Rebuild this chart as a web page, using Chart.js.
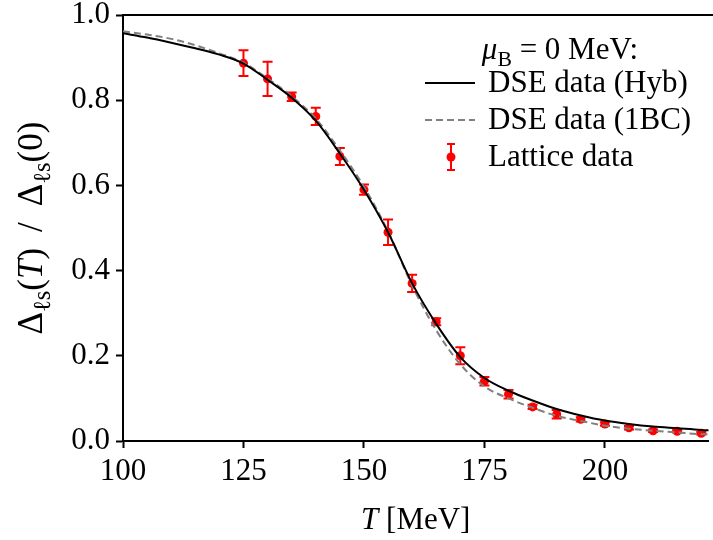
<!DOCTYPE html>
<html>
<head>
<meta charset="utf-8">
<script src="https://cdn.jsdelivr.net/npm/chart.js@4.4.1/dist/chart.umd.min.js"></script>
<style>
  body { margin: 0; background: #fff; }
  #wrap { width: 713px; height: 540px; }
</style>
</head>
<body>
<div id="wrap"><canvas id="myChart" width="713" height="540"></canvas></div>
<script>
// temperatures for the DSE curves (MeV)
var curveT = [100, 105, 110, 115, 120, 125, 130, 135, 140, 145, 150, 155, 160,
              165, 170, 175, 180, 185, 190, 195, 200, 205, 210, 215, 220, 222];
var hybValues = [0.957, 0.947, 0.935, 0.922, 0.907, 0.886, 0.848, 0.806, 0.752, 0.675,
                 0.590, 0.490, 0.370, 0.275, 0.197, 0.148, 0.118, 0.095, 0.075, 0.060,
                 0.048, 0.040, 0.034, 0.030, 0.026, 0.025];
var oneBCValues = [0.962, 0.954, 0.944, 0.929, 0.910, 0.888, 0.851, 0.809, 0.757, 0.682,
                   0.597, 0.492, 0.365, 0.260, 0.180, 0.128, 0.100, 0.078, 0.059, 0.047,
                   0.036, 0.029, 0.024, 0.020, 0.016, 0.0155];

// lattice points
var latticeT = [125, 130, 135, 140, 145, 150, 155, 160, 165, 170,
                175, 180, 185, 190, 195, 200, 205, 210, 215, 220];
var latticeValues = [0.887, 0.850, 0.808, 0.762, 0.668, 0.590, 0.490, 0.370, 0.280, 0.200,
                     0.140, 0.110, 0.080, 0.063, 0.051, 0.040, 0.031, 0.024, 0.023, 0.018];
var latticeErr = [0.030, 0.040, 0.010, 0.020, 0.020, 0.012, 0.030, 0.020, 0.008, 0.020,
                  0.010, 0.010, 0.005, 0.010, 0.005, 0.004, 0.004, 0.003, 0.003, 0.003];

var xTicks = [100, 125, 150, 175, 200];
var yTicks = [0, 0.2, 0.4, 0.6, 0.8, 1.0];

var FONT = "'Liberation Serif', 'DejaVu Serif', serif";
var FS = 31;

function pts(xs, ys) {
  var out = [];
  for (var i = 0; i < xs.length; i++) out.push({x: xs[i], y: ys[i]});
  return out;
}

// draw a run of text pieces (italic / subscript / extra gap) centred at x,y
function drawRich(ctx, segs, x, y, size) {
  var total = 0;
  var i, s, f;
  for (i = 0; i < segs.length; i++) {
    s = segs[i];
    f = (s.it ? 'italic ' : '') + (s.sub ? size * 0.7 : size) + 'px ' + FONT;
    ctx.font = f;
    s.w = ctx.measureText(s.t).width + (s.gap || 0) * 2;
    s.f = f;
    total += s.w;
  }
  var cx = x - total / 2;
  ctx.textBaseline = 'alphabetic';
  ctx.textAlign = 'left';
  for (i = 0; i < segs.length; i++) {
    s = segs[i];
    ctx.font = s.f;
    ctx.fillText(s.t, cx + (s.gap || 0), y + (s.sub ? size * 0.22 : 0));
    cx += s.w;
  }
}

var extrasPlugin = {
  id: 'extras',
  beforeDatasetsDraw: function(chart) {
    var ctx = chart.ctx, xs = chart.scales.x, ys = chart.scales.y, a = chart.chartArea;
    ctx.save();
    ctx.beginPath();
    ctx.rect(a.left, a.top - 5, a.right - a.left + 5, a.bottom - a.top + 10);
    ctx.clip();
    ctx.strokeStyle = '#ff0000';
    ctx.lineWidth = 2;
    for (var i = 0; i < latticeT.length; i++) {
      var px = xs.getPixelForValue(latticeT[i]);
      var y1 = ys.getPixelForValue(latticeValues[i] + latticeErr[i]);
      var y2 = ys.getPixelForValue(latticeValues[i] - latticeErr[i]);
      ctx.beginPath();
      ctx.moveTo(px, y1); ctx.lineTo(px, y2);
      ctx.moveTo(px - 5, y1); ctx.lineTo(px + 5, y1);
      ctx.moveTo(px - 5, y2); ctx.lineTo(px + 5, y2);
      ctx.stroke();
    }
    ctx.restore();
  },
  afterDraw: function(chart) {
    var ctx = chart.ctx, a = chart.chartArea;
    ctx.save();
    // top spine
    ctx.strokeStyle = '#000';
    ctx.lineWidth = 2;
    ctx.beginPath();
    ctx.moveTo(a.left - 1, a.top);
    ctx.lineTo(chart.width, a.top);
    ctx.stroke();

    ctx.fillStyle = '#000';
    // x title
    drawRich(ctx, [{t: 'T', it: true}, {t: ' [MeV]'}], (a.left + a.right) / 2, 529, FS);
    // y title
    ctx.save();
    ctx.translate(42, (a.top + a.bottom) / 2);
    ctx.rotate(-Math.PI / 2);
    drawRich(ctx, [{t: '\u0394'}, {t: '\u2113s', sub: true}, {t: '('}, {t: 'T', it: true},
                   {t: ')'}, {t: '/', gap: 16}, {t: '\u0394'}, {t: '\u2113s', sub: true},
                   {t: '(0)'}], 0, 0, 35);
    ctx.restore();

    // legend
    var ds = chart.data.datasets;
    drawRich(ctx, [{t: '\u03bc', it: true}, {t: 'B', sub: true}, {t: ' = 0 MeV:'}], 560, 59, 31);
    ctx.font = '31px ' + FONT;
    ctx.textAlign = 'left';
    ctx.textBaseline = 'middle';
    var rows = [83, 120, 157];
    for (var i = 0; i < 3; i++) {
      ctx.fillStyle = '#000';
      ctx.fillText(ds[i].label, 488, rows[i] + 1);
    }
    ctx.lineWidth = 2;
    ctx.strokeStyle = ds[0].borderColor;
    ctx.beginPath(); ctx.moveTo(425, rows[0]); ctx.lineTo(475, rows[0]); ctx.stroke();
    ctx.strokeStyle = ds[1].borderColor;
    ctx.setLineDash(ds[1].borderDash);
    ctx.beginPath(); ctx.moveTo(425, rows[1]); ctx.lineTo(475, rows[1]); ctx.stroke();
    ctx.setLineDash([]);
    ctx.strokeStyle = '#ff0000';
    ctx.fillStyle = '#ff0000';
    ctx.beginPath();
    ctx.moveTo(451, rows[2] - 13); ctx.lineTo(451, rows[2] + 13);
    ctx.moveTo(447, rows[2] - 13); ctx.lineTo(455, rows[2] - 13);
    ctx.moveTo(447, rows[2] + 13); ctx.lineTo(455, rows[2] + 13);
    ctx.stroke();
    ctx.beginPath(); ctx.arc(451, rows[2], 4.5, 0, Math.PI * 2); ctx.fill();
    ctx.restore();
  }
};

var ctx = document.getElementById('myChart').getContext('2d');
var chart = new Chart(ctx, {
  type: 'line',
  data: {
    datasets: [{
      label: 'DSE data (Hyb)',
      data: pts(curveT, hybValues),
      borderColor: '#000000',
      borderWidth: 2,
      pointRadius: 0,
      fill: false,
      cubicInterpolationMode: 'monotone'
    }, {
      label: 'DSE data (1BC)',
      data: pts(curveT, oneBCValues),
      borderColor: '#808080',
      borderWidth: 2,
      borderDash: [7, 4],
      pointRadius: 0,
      fill: false,
      cubicInterpolationMode: 'monotone'
    }, {
      label: 'Lattice data',
      data: pts(latticeT, latticeValues),
      showLine: false,
      pointRadius: 4.5,
      pointBackgroundColor: '#ff0000',
      pointBorderWidth: 0,
      borderColor: '#ff0000'
    }]
  },
  options: {
    responsive: false,
    animation: false,
    layout: { padding: { top: 15, right: 0, left: 0, bottom: 0 } },
    plugins: { legend: { display: false }, tooltip: { enabled: false } },
    scales: {
      x: {
        type: 'linear',
        min: 100,
        max: 221.5,
        afterBuildTicks: function(axis) { axis.ticks = xTicks.map(function(v) { return {value: v}; }); },
        afterFit: function(scale) { scale.height = 99; scale.paddingLeft = 0; scale.paddingRight = 0; },
        grid: { drawOnChartArea: false, tickLength: 7, tickColor: '#000', tickWidth: 2 },
        border: { color: '#000', width: 2 },
        ticks: { color: '#000', padding: 5, maxRotation: 0, font: { family: FONT, size: FS } }
      },
      y: {
        min: 0,
        max: 1.0,
        afterBuildTicks: function(axis) { axis.ticks = yTicks.map(function(v) { return {value: v}; }); },
        afterFit: function(scale) { scale.width = 123; scale.paddingTop = 0; scale.paddingBottom = 0; },
        grid: { drawOnChartArea: false, tickLength: 7, tickColor: '#000', tickWidth: 2 },
        border: { color: '#000', width: 2 },
        ticks: {
          color: '#000', padding: 6, font: { family: FONT, size: FS },
          callback: function(v) { return v.toFixed(1); }
        }
      }
    }
  },
  plugins: [extrasPlugin]
});
</script>
</body>
</html>
